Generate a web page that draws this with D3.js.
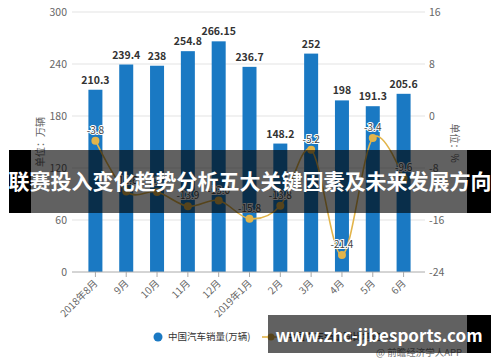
<!DOCTYPE html>
<html>
  <head>
    <meta charset="utf-8">
    <script src="https://d3js.org/d3.v7.min.js"></script>
    <style>
      body { margin: 0; background: #fff; }
      text { font-family: "Noto Sans CJK SC", "Noto Sans", sans-serif; }
    </style>
  </head>
  <body>
    <script>
      // data
      var months = ["2018年8月", "9月", "10月", "11月", "12月", "2019年1月", "2月", "3月", "4月", "5月", "6月"];
      var sales = [210.3, 239.4, 238, 254.8, 266.15, 236.7, 148.2, 252, 198, 191.3, 205.6];
      var growth = [-3.8, -11.6, -11.7, -13.9, -13.0, -15.8, -13.8, -5.2, -21.4, -3.4, -9.6];
      var leftTicks = [0, 60, 120, 180, 240, 300];
      var rightTicks = [-24, -16, -8, 0, 8, 16];

      var W = 500, H = 362;
      var barColor = "#1a79c3", lineColor = "#e2b44a";

      var svg = d3.select("body").append("svg")
                  .attr("width", W).attr("height", H);

      var x = d3.scaleBand().domain(months).range([80, 419]);
      var yL = d3.scaleLinear().domain([0, 300]).range([272, 12]);
      var yR = d3.scaleLinear().domain([-24, 16]).range([272, 12]);
      var cx = function(d) { return x(d) + x.bandwidth() / 2; };

      // grid lines
      svg.append("g").selectAll("line")
         .data(leftTicks.filter(function(d) { return d > 0; }))
         .enter().append("line")
         .attr("x1", 72).attr("x2", 425)
         .attr("y1", function(d) { return yL(d); })
         .attr("y2", function(d) { return yL(d); })
         .attr("stroke", "#e3e3e3");

      // left axis labels
      svg.append("g").selectAll("text")
         .data(leftTicks).enter().append("text")
         .attr("x", 67).attr("y", function(d) { return yL(d); })
         .attr("dy", "0.35em").attr("text-anchor", "end")
         .style("font-size", "10.5px").attr("fill", "#666")
         .text(function(d) { return d; });

      // right axis labels
      svg.append("g").selectAll("text")
         .data(rightTicks).enter().append("text")
         .attr("x", 429).attr("y", function(d) { return yR(d); })
         .attr("dy", "0.35em").attr("text-anchor", "start")
         .style("font-size", "10.5px").attr("fill", "#666")
         .text(function(d) { return d; });

      // axis titles
      svg.append("text")
         .attr("transform", "translate(44,142) rotate(-90)")
         .attr("text-anchor", "middle")
         .style("font-size", "10px").attr("fill", "#666")
         .text("单位：万辆");
      svg.append("text")
         .attr("transform", "translate(451,143) rotate(90)")
         .attr("text-anchor", "middle")
         .style("font-size", "10px").attr("fill", "#666")
         .text("单位：%");

      // bars
      var bw = 14;
      svg.append("g").selectAll("rect")
         .data(sales).enter().append("rect")
         .attr("x", function(d, i) { return cx(months[i]) - bw / 2; })
         .attr("width", bw)
         .attr("y", function(d) { return yL(d); })
         .attr("height", function(d) { return yL(0) - yL(d); })
         .attr("fill", barColor);

      // bar labels
      svg.append("g").selectAll("text")
         .data(sales).enter().append("text")
         .attr("x", function(d, i) { return cx(months[i]); })
         .attr("y", function(d) { return yL(d) - 6; })
         .attr("text-anchor", "middle")
         .style("font-size", "10.5px").style("font-weight", "bold")
         .attr("fill", "#333")
         .text(function(d) { return d; });

      // x axis
      var xAxis = svg.append("g").attr("transform", "translate(0," + yL(0) + ")");
      xAxis.append("line").attr("x1", 72).attr("x2", 425).attr("stroke", "#aaa");
      xAxis.selectAll(".tk").data(months).enter().append("line")
           .attr("x1", cx).attr("x2", cx).attr("y1", 0).attr("y2", 5)
           .attr("stroke", "#aaa");
      xAxis.selectAll(".lb").data(months).enter().append("text")
           .attr("transform", function(d) { return "translate(" + (cx(d) + 3) + ",12) rotate(-45)"; })
           .attr("text-anchor", "end")
           .style("font-size", "10px").attr("fill", "#666")
           .text(function(d) { return d; });

      // growth line
      var line = d3.line()
                   .x(function(d, i) { return cx(months[i]); })
                   .y(function(d) { return yR(d); })
                   .curve(d3.curveCardinal.tension(0));
      svg.append("path").datum(growth)
         .attr("d", line).attr("fill", "none")
         .attr("stroke", lineColor).attr("stroke-width", 1.6);
      svg.append("g").selectAll("circle")
         .data(growth).enter().append("circle")
         .attr("cx", function(d, i) { return cx(months[i]); })
         .attr("cy", function(d) { return yR(d); })
         .attr("r", 4).attr("fill", lineColor);
      svg.append("g").selectAll("text")
         .data(growth).enter().append("text")
         .attr("x", function(d, i) { return cx(months[i]); })
         .attr("y", function(d) { return yR(d) - 7; })
         .attr("text-anchor", "middle")
         .style("font-size", "10px").attr("fill", "#444")
         .attr("stroke", "#fff").attr("stroke-width", 2).attr("paint-order", "stroke")
         .text(function(d) { return d.toFixed(1); });

      // legend
      var lg = svg.append("g").attr("transform", "translate(0,337)");
      lg.append("circle").attr("cx", 158).attr("cy", 0).attr("r", 4.5).attr("fill", barColor);
      lg.append("text").attr("x", 168).attr("y", 0).attr("dy", "0.35em")
        .style("font-size", "9.5px").attr("fill", "#333").text("中国汽车销量(万辆)");
      lg.append("line").attr("x1", 262).attr("x2", 280).attr("stroke", lineColor).attr("stroke-width", 1.6);
      lg.append("circle").attr("cx", 271).attr("cy", 0).attr("r", 3.5).attr("fill", lineColor);
      lg.append("text").attr("x", 286).attr("y", 0).attr("dy", "0.35em")
        .style("font-size", "9.5px").attr("fill", "#333").text("中国汽车销量同比增速(%)");

      svg.append("text").attr("x", 462).attr("y", 356).attr("text-anchor", "end")
         .style("font-size", "9.5px").attr("fill", "#777").text("@ 前瞻经济学人APP");

      // title banner
      svg.append("rect").attr("x", 9).attr("y", 150).attr("width", 22).attr("height", 63).attr("fill", "#000");
      svg.append("rect").attr("x", 31).attr("y", 150).attr("width", 436).attr("height", 63).attr("fill", "rgba(0,0,0,0.62)");
      svg.append("rect").attr("x", 467).attr("y", 150).attr("width", 24).attr("height", 63).attr("fill", "#000");
      svg.append("text").attr("x", 250).attr("y", 182).attr("dy", "0.35em")
         .attr("text-anchor", "middle")
         .style("font-size", "21px").style("font-weight", "bold").attr("fill", "#fff")
         .text("联赛投入变化趋势分析五大关键因素及未来发展方向");

      // site box
      svg.append("rect").attr("x", 268).attr("y", 315).attr("width", 199).attr("height", 38).attr("fill", "rgba(0,0,0,0.62)");
      svg.append("rect").attr("x", 467).attr("y", 315).attr("width", 24).attr("height", 38).attr("fill", "#000");
      svg.append("text").attr("x", 379).attr("y", 336).attr("dy", "0.35em")
         .attr("text-anchor", "middle")
         .style("font-size", "17px").style("font-weight", "bold").attr("fill", "#fff")
         .text("www.zhc-jjbesports.com");
    </script>
  </body>
</html>
